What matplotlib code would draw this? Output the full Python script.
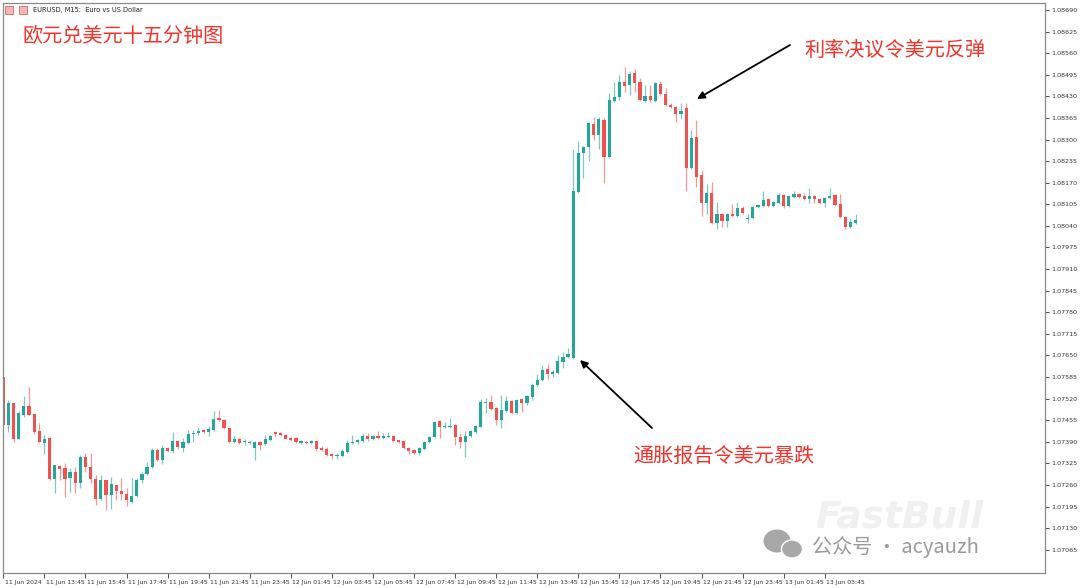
import matplotlib.pyplot as plt
from matplotlib.transforms import ScaledTranslation
from matplotlib.patches import Ellipse, FancyArrowPatch

plt.rcParams['font.family'] = ['Noto Sans CJK SC', 'DejaVu Sans']

# EURUSD M15, 11 Jun 11:45 -> 13 Jun 05:15
opens = [
    1.07585, 1.07441, 1.07507, 1.07399, 1.07471, 1.07498, 1.07474, 1.07423, 1.07387, 1.07402,
    1.07278, 1.07317, 1.07311, 1.07281, 1.07299, 1.07266, 1.07344, 1.07314, 1.07278, 1.07218,
    1.07275, 1.07230, 1.07260, 1.07242, 1.07233, 1.07209, 1.07227, 1.07275, 1.07293, 1.07314,
    1.07365, 1.07335, 1.07372, 1.07362, 1.07393, 1.07372, 1.07387, 1.07414, 1.07417, 1.07426,
    1.07420, 1.07426, 1.07462, 1.07456, 1.07432, 1.07390, 1.07399, 1.07390, 1.07387, 1.07372,
    1.07390, 1.07384, 1.07396, 1.07420, 1.07417, 1.07411, 1.07402, 1.07402, 1.07387, 1.07390,
    1.07387, 1.07393, 1.07372, 1.07369, 1.07353, 1.07347, 1.07347, 1.07359, 1.07387, 1.07390,
    1.07393, 1.07408, 1.07399, 1.07408, 1.07402, 1.07405, 1.07408, 1.07396, 1.07393, 1.07372,
    1.07365, 1.07356, 1.07369, 1.07390, 1.07405, 1.07453, 1.07435, 1.07435, 1.07441, 1.07405,
    1.07390, 1.07408, 1.07420, 1.07435, 1.07507, 1.07510, 1.07492, 1.07456, 1.07483, 1.07513,
    1.07477, 1.07519, 1.07507, 1.07525, 1.07561, 1.07576, 1.07609, 1.07594, 1.07597, 1.07630,
    1.07645, 1.07642, 1.08142, 1.08259, 1.08278, 1.08347, 1.08314, 1.08359, 1.08247, 1.08416,
    1.08428, 1.08473, 1.08464, 1.08500, 1.08473, 1.08416, 1.08431, 1.08416, 1.08467, 1.08437,
    1.08404, 1.08398, 1.08377, 1.08395, 1.08214, 1.08308, 1.08193, 1.08109, 1.08139, 1.08049,
    1.08076, 1.08055, 1.08076, 1.08070, 1.08094, 1.08061, 1.08064, 1.08097, 1.08100, 1.08121,
    1.08100, 1.08109, 1.08133, 1.08100, 1.08127, 1.08136, 1.08130, 1.08121, 1.08130, 1.08121,
    1.08109, 1.08124, 1.08133, 1.08106, 1.08067, 1.08037, 1.08049,
]
highs = [
    1.07585, 1.07516, 1.07507, 1.07483, 1.07528, 1.07555, 1.07474, 1.07447, 1.07411, 1.07405,
    1.07320, 1.07320, 1.07326, 1.07311, 1.07314, 1.07350, 1.07356, 1.07356, 1.07290, 1.07290,
    1.07275, 1.07284, 1.07260, 1.07281, 1.07251, 1.07281, 1.07281, 1.07299, 1.07329, 1.07372,
    1.07372, 1.07381, 1.07375, 1.07420, 1.07396, 1.07402, 1.07426, 1.07426, 1.07435, 1.07429,
    1.07438, 1.07483, 1.07486, 1.07459, 1.07432, 1.07408, 1.07402, 1.07399, 1.07396, 1.07393,
    1.07393, 1.07411, 1.07411, 1.07423, 1.07420, 1.07414, 1.07405, 1.07405, 1.07396, 1.07393,
    1.07396, 1.07393, 1.07378, 1.07375, 1.07356, 1.07356, 1.07369, 1.07396, 1.07411, 1.07399,
    1.07417, 1.07417, 1.07411, 1.07423, 1.07417, 1.07420, 1.07411, 1.07396, 1.07396, 1.07375,
    1.07369, 1.07375, 1.07393, 1.07408, 1.07453, 1.07456, 1.07450, 1.07462, 1.07444, 1.07417,
    1.07423, 1.07426, 1.07441, 1.07519, 1.07522, 1.07531, 1.07495, 1.07531, 1.07528, 1.07516,
    1.07519, 1.07522, 1.07531, 1.07567, 1.07594, 1.07621, 1.07624, 1.07606, 1.07651, 1.07660,
    1.07673, 1.08272, 1.08296, 1.08281, 1.08353, 1.08368, 1.08368, 1.08365, 1.08440, 1.08473,
    1.08494, 1.08518, 1.08506, 1.08512, 1.08485, 1.08464, 1.08464, 1.08473, 1.08476, 1.08455,
    1.08410, 1.08401, 1.08410, 1.08410, 1.08329, 1.08359, 1.08208, 1.08166, 1.08172, 1.08112,
    1.08079, 1.08079, 1.08106, 1.08112, 1.08100, 1.08076, 1.08100, 1.08106, 1.08145, 1.08124,
    1.08115, 1.08139, 1.08136, 1.08133, 1.08145, 1.08139, 1.08139, 1.08154, 1.08133, 1.08124,
    1.08127, 1.08154, 1.08136, 1.08136, 1.08070, 1.08064, 1.08076,
]
lows = [
    1.07435, 1.07420, 1.07390, 1.07399, 1.07465, 1.07471, 1.07414, 1.07387, 1.07353, 1.07275,
    1.07236, 1.07275, 1.07224, 1.07239, 1.07236, 1.07251, 1.07299, 1.07266, 1.07200, 1.07215,
    1.07185, 1.07188, 1.07215, 1.07215, 1.07197, 1.07206, 1.07224, 1.07266, 1.07290, 1.07311,
    1.07332, 1.07323, 1.07359, 1.07356, 1.07369, 1.07359, 1.07384, 1.07390, 1.07411, 1.07417,
    1.07408, 1.07423, 1.07453, 1.07429, 1.07387, 1.07387, 1.07384, 1.07381, 1.07384, 1.07335,
    1.07365, 1.07381, 1.07393, 1.07405, 1.07408, 1.07399, 1.07393, 1.07387, 1.07384, 1.07384,
    1.07384, 1.07362, 1.07362, 1.07347, 1.07338, 1.07338, 1.07344, 1.07356, 1.07384, 1.07384,
    1.07390, 1.07393, 1.07396, 1.07399, 1.07399, 1.07402, 1.07390, 1.07387, 1.07369, 1.07353,
    1.07353, 1.07350, 1.07365, 1.07387, 1.07402, 1.07402, 1.07432, 1.07432, 1.07381, 1.07372,
    1.07344, 1.07405, 1.07417, 1.07435, 1.07477, 1.07486, 1.07441, 1.07432, 1.07480, 1.07474,
    1.07474, 1.07480, 1.07501, 1.07516, 1.07558, 1.07573, 1.07579, 1.07585, 1.07594, 1.07612,
    1.07642, 1.07639, 1.08139, 1.08184, 1.08235, 1.08299, 1.08272, 1.08169, 1.08244, 1.08413,
    1.08419, 1.08443, 1.08434, 1.08443, 1.08416, 1.08413, 1.08413, 1.08413, 1.08434, 1.08401,
    1.08395, 1.08353, 1.08362, 1.08145, 1.08211, 1.08157, 1.08070, 1.08076, 1.08046, 1.08031,
    1.08037, 1.08037, 1.08067, 1.08067, 1.08076, 1.08049, 1.08061, 1.08094, 1.08097, 1.08097,
    1.08097, 1.08106, 1.08094, 1.08097, 1.08124, 1.08124, 1.08118, 1.08109, 1.08109, 1.08106,
    1.08097, 1.08121, 1.08100, 1.08064, 1.08031, 1.08034, 1.08046,
]
closes = [
    1.07441, 1.07507, 1.07399, 1.07477, 1.07498, 1.07471, 1.07420, 1.07390, 1.07399, 1.07278,
    1.07320, 1.07308, 1.07278, 1.07299, 1.07266, 1.07344, 1.07314, 1.07278, 1.07218, 1.07275,
    1.07230, 1.07263, 1.07242, 1.07233, 1.07215, 1.07227, 1.07275, 1.07293, 1.07314, 1.07365,
    1.07335, 1.07372, 1.07362, 1.07393, 1.07375, 1.07390, 1.07414, 1.07417, 1.07423, 1.07420,
    1.07429, 1.07459, 1.07456, 1.07432, 1.07390, 1.07399, 1.07387, 1.07393, 1.07390, 1.07390,
    1.07381, 1.07399, 1.07408, 1.07414, 1.07411, 1.07399, 1.07396, 1.07390, 1.07393, 1.07387,
    1.07393, 1.07369, 1.07365, 1.07350, 1.07347, 1.07350, 1.07362, 1.07387, 1.07390, 1.07396,
    1.07408, 1.07399, 1.07408, 1.07402, 1.07408, 1.07408, 1.07393, 1.07390, 1.07372, 1.07362,
    1.07356, 1.07372, 1.07390, 1.07405, 1.07450, 1.07435, 1.07438, 1.07438, 1.07405, 1.07390,
    1.07408, 1.07423, 1.07438, 1.07510, 1.07510, 1.07489, 1.07456, 1.07486, 1.07513, 1.07477,
    1.07516, 1.07507, 1.07528, 1.07561, 1.07576, 1.07606, 1.07594, 1.07600, 1.07633, 1.07645,
    1.07654, 1.08145, 1.08259, 1.08278, 1.08350, 1.08314, 1.08362, 1.08247, 1.08419, 1.08428,
    1.08473, 1.08461, 1.08497, 1.08470, 1.08419, 1.08431, 1.08419, 1.08470, 1.08437, 1.08404,
    1.08398, 1.08377, 1.08386, 1.08214, 1.08305, 1.08187, 1.08109, 1.08139, 1.08049, 1.08076,
    1.08055, 1.08076, 1.08070, 1.08094, 1.08079, 1.08064, 1.08097, 1.08103, 1.08118, 1.08100,
    1.08112, 1.08133, 1.08100, 1.08130, 1.08136, 1.08127, 1.08121, 1.08130, 1.08121, 1.08109,
    1.08124, 1.08130, 1.08103, 1.08067, 1.08037, 1.08052, 1.08058,
]

price_ticks = [
    1.07065, 1.07130, 1.07195, 1.07260, 1.07325, 1.07390, 1.07455, 1.07520, 1.07585,
    1.07650, 1.07715, 1.07780, 1.07845, 1.07910, 1.07975, 1.08040, 1.08105, 1.08170,
    1.08235, 1.08300, 1.08365, 1.08430, 1.08495, 1.08560, 1.08625, 1.08690,
]
time_tick_bars = [0, 8, 16, 24, 32, 40, 48, 56, 64, 72, 80, 88, 96, 104, 112, 120, 128, 136, 144, 152, 160]
time_labels = [
    '11 Jun 2024', '11 Jun 13:45', '11 Jun 15:45', '11 Jun 17:45', '11 Jun 19:45',
    '11 Jun 21:45', '11 Jun 23:45', '12 Jun 01:45', '12 Jun 03:45', '12 Jun 05:45',
    '12 Jun 07:45', '12 Jun 09:45', '12 Jun 11:45', '12 Jun 13:45', '12 Jun 15:45',
    '12 Jun 17:45', '12 Jun 19:45', '12 Jun 21:45', '12 Jun 23:45', '13 Jun 01:45',
    '13 Jun 03:45',
]

UP = '#26a69a'
DOWN = '#ef5350'
W, H = 1080, 588


def fx(px):
    return px / W


def fy(py):
    return 1 - py / H


fig = plt.figure(figsize=(10.8, 5.88), dpi=100)
ax = fig.add_axes([fx(3), fy(573), fx(1045) - fx(3), fy(3) - fy(573)])

# candles
idx = list(range(len(opens)))
colors = [UP if c >= o else DOWN for o, c in zip(opens, closes)]
ax.vlines(idx, lows, highs, colors=colors, linewidth=0.9, alpha=0.6)
bottoms = [min(o, c) for o, c in zip(opens, closes)]
heights = [max(abs(c - o), 0.00003) for o, c in zip(opens, closes)]
ax.bar(idx, heights, bottom=bottoms, width=0.62, color=colors, linewidth=0)

ax.set_xlim(-0.06, 202.9)
ax.set_ylim(1.06995, 1.08711)

# price scale on the right
ax.yaxis.tick_right()
ax.set_yticks(price_ticks)
ax.set_yticklabels([f'{p:.5f}' for p in price_ticks], family='DejaVu Sans')
ax.tick_params(axis='y', direction='out', length=3, width=0.6, colors='#333333',
               labelsize=4.6, pad=1.5)

# time scale
ax.set_xticks(time_tick_bars)
ax.set_xticklabels(time_labels, family='DejaVu Sans')
ax.tick_params(axis='x', direction='out', length=3.5, width=0.6, colors='#333333',
               labelsize=4.4, pad=1.5)
shift = ScaledTranslation(1.5 / 100, 0, fig.dpi_scale_trans)
for lab in ax.get_xticklabels():
    lab.set_ha('left')
    lab.set_transform(lab.get_transform() + shift)

for s in ax.spines.values():
    s.set_color('#8a8a8a')
    s.set_linewidth(0.9)

# header
fig.text(fx(33), fy(10), 'EURUSD, M15:  Euro vs US Dollar', fontsize=4.8,
         family='DejaVu Sans', color='#222222', va='center', ha='left')
for left in (5, 19):
    fig.patches.append(plt.Rectangle((fx(left), fy(14)), fx(8), 8 / H, transform=fig.transFigure,
                                     facecolor='#f4b6b6', edgecolor='#d05050', linewidth=0.5))

# annotations
red_txt = '#f5322a'
fig.text(fx(22), fy(36), '欧元兑美元十五分钟图', fontsize=14.5, color=red_txt,
         va='center', ha='left')
fig.text(fx(804), fy(50), '利率决议令美元反弹', fontsize=14.5, color=red_txt,
         va='center', ha='left')
fig.text(fx(633), fy(456), '通胀报告令美元暴跌', fontsize=14.5, color=red_txt,
         va='center', ha='left')

arrow = dict(arrowstyle='-|>', color='black', lw=1.3, mutation_scale=11, shrinkA=0, shrinkB=0)
fig.add_artist(FancyArrowPatch((fx(790), fy(45)), (fx(697), fy(99)),
                               transform=fig.transFigure, **arrow))
fig.add_artist(FancyArrowPatch((fx(652), fy(428)), (fx(580), fy(360)),
                               transform=fig.transFigure, **arrow))

# watermarks
fig.text(fx(815), fy(518), 'FastBull', fontsize=27, color='#f0f0f0', fontweight='bold',
         fontstyle='italic', va='center', ha='left', family='DejaVu Sans')
fig.patches.append(Ellipse((fx(777), fy(541)), fx(27), 23 / H, transform=fig.transFigure,
                           facecolor='#a8a8a8', edgecolor='none'))
fig.patches.append(Ellipse((fx(792), fy(549)), fx(21), 18 / H, transform=fig.transFigure,
                           facecolor='#a8a8a8', edgecolor='white', linewidth=1))
fig.text(fx(812), fy(547), '公众号 · acyauzh', fontsize=14.5, color='#9a9a9a',
         va='center', ha='left')

fig.savefig('out.png', dpi=100, facecolor='white')
